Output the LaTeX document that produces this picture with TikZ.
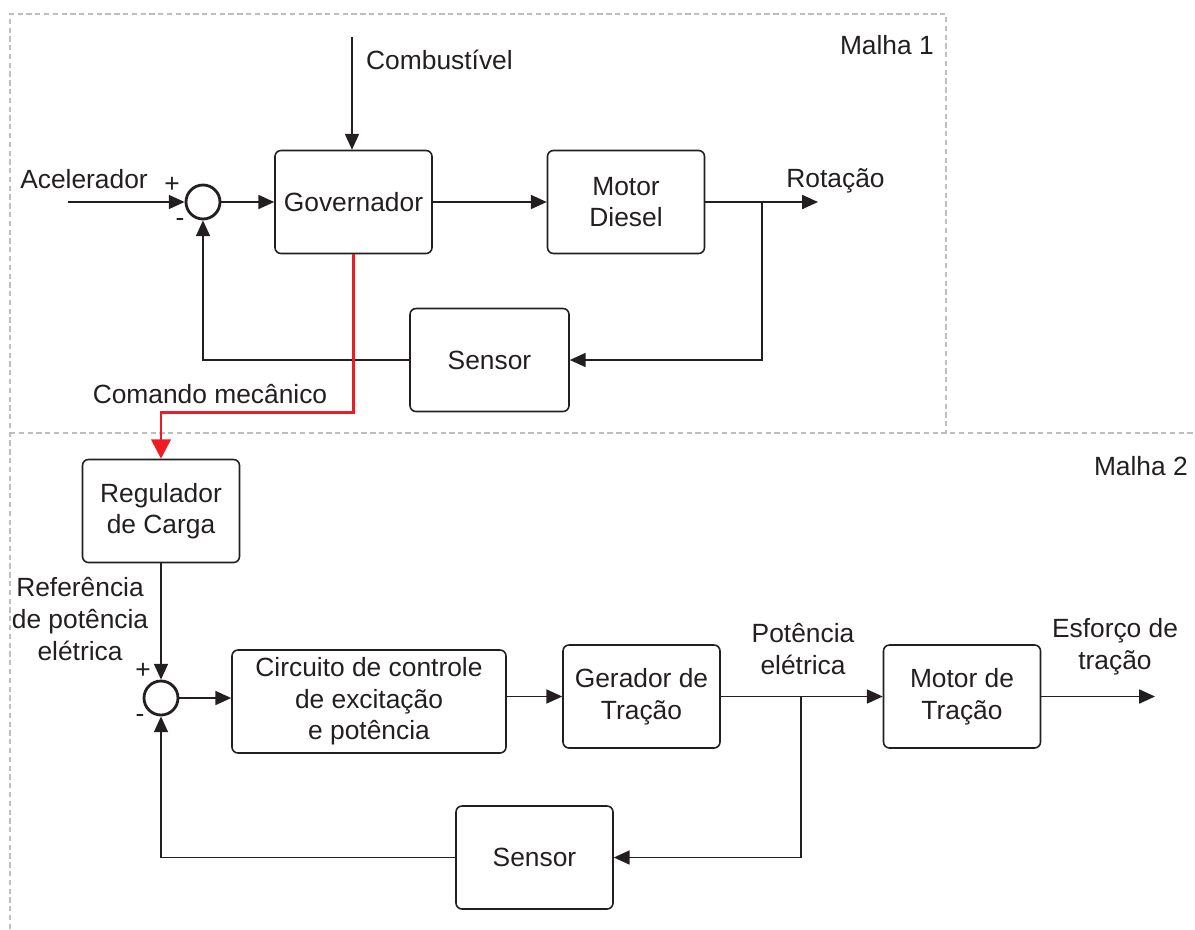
\documentclass[tikz,border=0pt]{standalone}
\usepackage{fontspec}
\setmainfont{Liberation Sans}
\usepackage{tikz}
\usetikzlibrary{positioning,arrows.meta,calc}
\definecolor{mlGray}{RGB}{190,190,190}
\definecolor{mlRed}{RGB}{237,28,36}
\definecolor{mlInk}{RGB}{35,31,32}
\tikzset{
    base/.style={font=\fontsize{15}{18}\selectfont, align=center, text=mlInk},
    block/.style={base, rectangle, rounded corners=1.2mm, draw=mlInk, line width=0.9pt,
                  minimum width=3.14cm, minimum height=2.06cm, inner sep=1mm},
    summer/.style={circle, draw=mlInk, line width=1.6pt, minimum size=0.68cm, inner sep=0pt},
    flow/.style={-{Triangle[length=9pt,width=8pt]}, line width=0.85pt, color=mlInk},
    command/.style={-{Triangle[length=11pt,width=11pt]}, line width=1.7pt, color=mlRed},
    frame/.style={dash pattern=on 3pt off 2pt, line width=0.7pt, color=mlGray},
    sign/.style={base, inner sep=0pt}
}
\begin{document}
\begin{tikzpicture}
  \useasboundingbox (0,0) rectangle (23.9,-18.58);

  % loop frames
  \draw[frame] (0.2,-18.58) -- (0.2,-0.28) -- (18.92,-0.28) -- (18.92,-8.66);
  \draw[frame] (0.2,-8.66) -- (23.9,-8.66);
  \node[base, anchor=east] (malha1) at (18.8,-0.9) {Malha 1};
  \node[base, anchor=east] (malha2) at (23.88,-9.32) {Malha 2};

  % Malha 1
  \node[summer] (sum1) at (4.06,-4.04) {};
  \node[block] (gov) at (7.07,-4.04) {Governador};
  \node[block] (diesel) at (12.52,-4.04) {Motor\\Diesel};
  \node[block, minimum width=3.18cm] (sens1) at (9.79,-7.2) {Sensor};
  \coordinate (acelIn) at (1.36,-4.04);
  \coordinate (fuelIn) at (7.04,-0.74);
  \coordinate (rotOut) at (16.36,-4.04);
  \coordinate (rotTap) at (15.24,-4.04);

  \node[base, anchor=south] (acel) at (1.68,-3.9) {Acelerador};
  \node[base, anchor=west] (fuel) at (7.2,-1.2) {Combustível};
  \node[base, anchor=south] (rot) at (16.71,-3.98) {Rotação};
  \node[sign] (plus1) at (3.44,-3.7) {+};
  \node[sign] (minus1) at (3.6,-4.44) {-};

  \draw[flow] (acelIn) -- (sum1);
  \draw[flow] (fuelIn) -- (fuelIn |- gov.north);
  \draw[flow] (sum1) -- (gov);
  \draw[flow] (gov) -- (diesel);
  \draw[flow] (diesel) -- (rotOut);
  \draw[flow] (rotTap) |- (sens1.east);
  \draw[flow] (sens1.west) -| (sum1.south);

  % Malha 2
  \node[block] (reg) at (3.22,-10.22) {Regulador\\de Carga};
  \node[summer] (sum2) at (3.22,-13.96) {};
  \node[block, minimum width=5.48cm] (circ) at (7.38,-14.03) {Circuito de controle\\de excitação\\e potência};
  \node[block] (ger) at (12.83,-13.93) {Gerador de\\Tração};
  \node[block] (motT) at (19.24,-13.93) {Motor de\\Tração};
  \node[block] (sens2) at (10.69,-17.15) {Sensor};
  \coordinate (potTap) at (16.02,-13.93);
  \coordinate (esfOut) at (23.1,-13.93);

  \node[base] (ref) at (1.6,-12.38) {Referência\\de potência\\elétrica};
  \node[base, anchor=south] (pot) at (16.06,-13.62) {Potência\\elétrica};
  \node[base, anchor=south] (esf) at (22.3,-13.62) {Esforço de\\tração};
  \node[sign] (plus2) at (2.86,-13.42) {+};
  \node[sign] (minus2) at (2.8,-14.36) {-};

  \draw[flow] (reg) -- (sum2);
  \draw[flow] (sum2) -- (sum2 -| circ.west);
  \draw[flow] (circ.east |- ger) -- (ger);
  \draw[flow] (ger) -- (motT);
  \draw[flow] (motT) -- (esfOut);
  \draw[flow] (potTap) |- (sens2.east);
  \draw[flow] (sens2.west) -| (sum2.south);

  % mechanical command between loops
  \coordinate (cmdBend) at (3.22,-8.24);
  \draw[command] (gov.south) |- (cmdBend) -- (reg.north);
  \node[base, anchor=south] (cmd) at (4.2,-8.2) {Comando mecânico};
\end{tikzpicture}
\end{document}
